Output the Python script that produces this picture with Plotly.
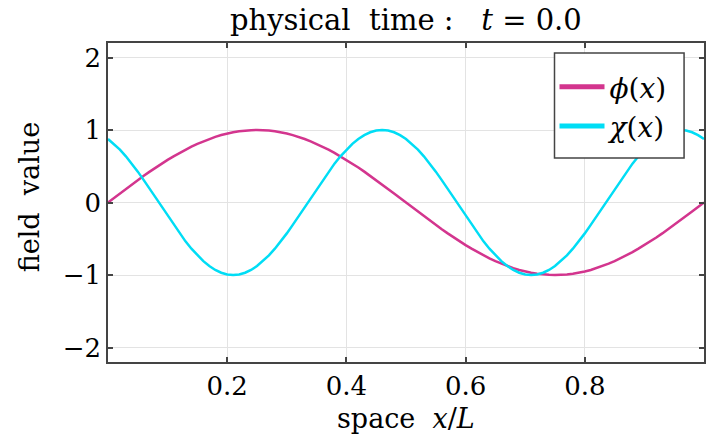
import plotly.graph_objects as go

x_vals = [i / 100 for i in range(101)]

phi_vals = [0.000, 0.063, 0.125, 0.187, 0.249, 0.309, 0.368, 0.426, 0.482, 0.536,
            0.588, 0.637, 0.685, 0.729, 0.771, 0.809, 0.844, 0.876, 0.905, 0.930,
            0.951, 0.969, 0.982, 0.992, 0.998, 1.000, 0.998, 0.992, 0.982, 0.969,
            0.951, 0.930, 0.905, 0.876, 0.844, 0.809, 0.771, 0.729, 0.685, 0.637,
            0.588, 0.536, 0.482, 0.426, 0.368, 0.309, 0.249, 0.187, 0.125, 0.063,
            0.000,
            -0.063, -0.125, -0.187, -0.249, -0.309, -0.368, -0.426, -0.482, -0.536, -0.588,
            -0.637, -0.685, -0.729, -0.771, -0.809, -0.844, -0.876, -0.905, -0.930, -0.951,
            -0.969, -0.982, -0.992, -0.998, -1.000, -0.998, -0.992, -0.982, -0.969, -0.951,
            -0.930, -0.905, -0.876, -0.844, -0.809, -0.771, -0.729, -0.685, -0.637, -0.588,
            -0.536, -0.482, -0.426, -0.368, -0.309, -0.249, -0.187, -0.125, -0.063, 0.000]

chi_vals = [0.876, 0.809, 0.729, 0.637, 0.536, 0.426, 0.309, 0.187, 0.063, -0.063,
            -0.187, -0.309, -0.426, -0.536, -0.637, -0.729, -0.809, -0.876, -0.930, -0.969,
            -0.992, -1.000, -0.992, -0.969, -0.930, -0.876, -0.809, -0.729, -0.637, -0.536,
            -0.426, -0.309, -0.187, -0.063, 0.063, 0.187, 0.309, 0.426, 0.536, 0.637,
            0.729, 0.809, 0.876, 0.930, 0.969, 0.992, 1.000, 0.992, 0.969, 0.930,
            0.876,
            0.809, 0.729, 0.637, 0.536, 0.426, 0.309, 0.187, 0.063, -0.063,
            -0.187, -0.309, -0.426, -0.536, -0.637, -0.729, -0.809, -0.876, -0.930, -0.969,
            -0.992, -1.000, -0.992, -0.969, -0.930, -0.876, -0.809, -0.729, -0.637, -0.536,
            -0.426, -0.309, -0.187, -0.063, 0.063, 0.187, 0.309, 0.426, 0.536, 0.637,
            0.729, 0.809, 0.876, 0.930, 0.969, 0.992, 1.000, 0.992, 0.969, 0.930,
            0.876]

x_ticks = [0.2, 0.4, 0.6, 0.8]
y_ticks = [-2, -1, 0, 1, 2]

PINK = "#D3358E"
CYAN = "#00DDF5"
FONT = "DejaVu Serif"

fig = go.Figure()
fig.add_trace(go.Scatter(x=x_vals, y=phi_vals, mode="lines", line=dict(color=PINK, width=2.5),
                         showlegend=False))
fig.add_trace(go.Scatter(x=x_vals, y=chi_vals, mode="lines", line=dict(color=CYAN, width=2.5),
                         showlegend=False))
# legend entries (thicker swatches)
fig.add_trace(go.Scatter(x=[None], y=[None], mode="lines", line=dict(color=PINK, width=5),
                         name="<i>ϕ</i>(<i>x</i>)"))
fig.add_trace(go.Scatter(x=[None], y=[None], mode="lines", line=dict(color=CYAN, width=5),
                         name="<i>χ</i>(<i>x</i>)"))

axis_common = dict(
    showline=True, linecolor="#444444", linewidth=1.5, mirror="ticks",
    ticks="inside", ticklen=5, tickcolor="#444444", tickwidth=1.5,
    showgrid=True, gridcolor="#E3E3E3", gridwidth=1, zeroline=False,
    tickfont=dict(family=FONT, size=26, color="black"),
)

fig.update_layout(
    width=711, height=437,
    margin=dict(l=108, r=5, t=43, b=75),
    paper_bgcolor="white", plot_bgcolor="white",
    font=dict(family=FONT, color="black"),
    xaxis=dict(range=[0, 1], tickvals=x_ticks, ticktext=[f"{v:.1f}" for v in x_ticks],
               **axis_common),
    yaxis=dict(range=[-2.2, 2.2], tickvals=y_ticks, **axis_common),
    legend=dict(x=(556 - 108) / 598, y=1 - (62 - 43) / 319, xanchor="left", yanchor="top",
                bgcolor="rgba(0,0,0,0)", borderwidth=0,
                font=dict(family=FONT, size=28, color="black"), itemwidth=45,
                tracegroupgap=0),
    shapes=[dict(type="rect", xref="paper", yref="paper", layer="above",
                 x0=(556 - 108) / 598, x1=(686 - 108) / 598,
                 y0=1 - (158 - 43) / 319, y1=1 - (53 - 43) / 319,
                 fillcolor="white", line=dict(color="#444444", width=1.5))],
    annotations=[
        dict(text="physical  time :   <i>t</i> = 0.0", xref="paper", yref="paper",
             x=0.5, y=1 + (43 - 20) / 319, xanchor="center", yanchor="middle", showarrow=False,
             font=dict(family=FONT, size=29, color="black")),
        dict(text="space  <i>x</i>/<i>L</i>", xref="paper", yref="paper",
             x=0.5, y=-(418 - 362) / 319, xanchor="center", yanchor="middle", showarrow=False,
             font=dict(family=FONT, size=27, color="black")),
        dict(text="field  value", xref="paper", yref="paper", textangle=-90,
             x=-(108 - 29) / 598, y=1 - (197 - 43) / 319, xanchor="center", yanchor="middle",
             showarrow=False, font=dict(family=FONT, size=27, color="black")),
    ],
)

fig.write_html("out.html", config={"displayModeBar": False},
               post_script="document.body.style.margin='0';")
